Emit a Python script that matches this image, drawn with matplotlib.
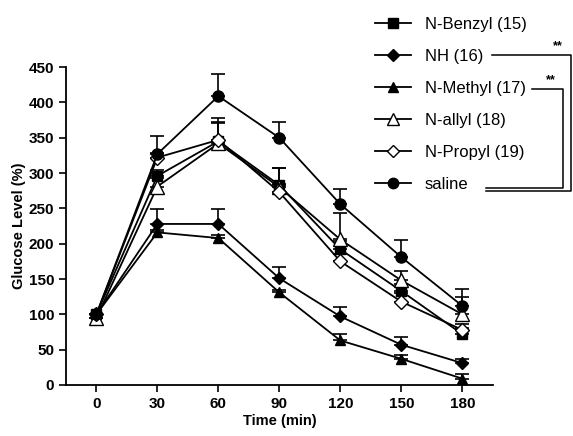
import numpy as np
import matplotlib.pyplot as plt
from matplotlib.lines import Line2D

plt.rcParams['font.family'] = ['Liberation Sans', 'DejaVu Sans']

time_min = [0, 30, 60, 90, 120, 150, 180]
labels = ['N-Benzyl (15)', 'NH (16)', 'N-Methyl (17)', 'N-allyl (18)', 'N-Propyl (19)', 'saline']

benzyl = [100, 296, 345, 283, 192, 133, 72]
benzyl_err = [0, 8, 27, 24, 12, 10, 8]
nh = [100, 228, 228, 151, 97, 57, 31]
nh_err = [0, 21, 21, 16, 14, 11, 6]
methyl = [100, 216, 208, 131, 63, 37, 9]
methyl_err = [0, 4, 4, 4, 9, 5, 6]
allyl = [95, 281, 342, 280, 206, 148, 100]
allyl_err = [0, 12, 36, 27, 37, 14, 24]
propyl = [100, 322, 347, 273, 175, 118, 78]
propyl_err = [0, 6, 24, 12, 10, 12, 8]
saline = [100, 327, 409, 350, 256, 181, 112]
saline_err = [0, 25, 31, 23, 22, 24, 24]

series = [benzyl, nh, methyl, allyl, propyl, saline]
errors = [benzyl_err, nh_err, methyl_err, allyl_err, propyl_err, saline_err]
markers = ['s', 'D', '^', '^', 'D', 'o']
faces = ['black', 'black', 'black', 'white', 'white', 'black']
msizes = [7, 6.5, 7.5, 10, 7.5, 8]
leg_sizes = [6.5, 6, 7, 8.5, 6, 7.5]

fig = plt.figure(figsize=(5.73, 4.36), dpi=100)
ax = fig.add_axes([0.115, 0.117, 0.745, 0.729])

handles = []
for y, e, m, fc, ms, ls in zip(series, errors, markers, faces, msizes, leg_sizes):
    ax.errorbar(time_min, y, yerr=[np.zeros(len(e)), e], fmt='none', ecolor='black',
                elinewidth=1.2, capsize=5, capthick=1.2)
    ax.plot(time_min, y, color='black', lw=1.3, marker=m, markersize=ms,
            markerfacecolor=fc, markeredgecolor='black', markeredgewidth=1.0)
    handles.append(Line2D([], [], color='black', lw=1.3, marker=m, markersize=ls,
                          markerfacecolor=fc, markeredgecolor='black'))

ax.set_xlim(-15, 195)
ax.set_ylim(0, 450)
ax.set_xticks(time_min)
ax.set_yticks(np.arange(0, 451, 50))
ax.spines['top'].set_visible(False)
ax.spines['right'].set_visible(False)
for s in ['left', 'bottom']:
    ax.spines[s].set_linewidth(1.3)
ax.tick_params(direction='out', length=5, width=1.2, labelsize=11)
for t in ax.get_xticklabels() + ax.get_yticklabels():
    t.set_fontweight('bold')
ax.set_xlabel('Time (min)', fontsize=10.5, fontweight='bold', labelpad=2)
ax.set_ylabel('Glucose Level (%)', fontsize=10.5, fontweight='bold', labelpad=2)

fig.legend(handles, labels, loc='upper left', bbox_to_anchor=(0.628, 0.995),
           frameon=False, handlelength=2.15, handletextpad=0.85, labelspacing=1.02,
           prop={'size': 12})

# significance brackets (figure pixel coords)
W, H = 573, 436
def fline(xs, ys):
    fig.add_artist(Line2D([x / W for x in xs], [1 - y / H for y in ys],
                          color='black', lw=1.1, transform=fig.transFigure))

fline([492, 571, 571, 486], [55, 55, 191, 191])
fline([532, 563, 563, 486], [89, 89, 188, 188])
fig.text(558 / W, 1 - 49 / H, '**', fontsize=9, fontweight='bold', ha='center')
fig.text(551 / W, 1 - 83 / H, '**', fontsize=9, fontweight='bold', ha='center')

fig.savefig('out.png', dpi=100)
